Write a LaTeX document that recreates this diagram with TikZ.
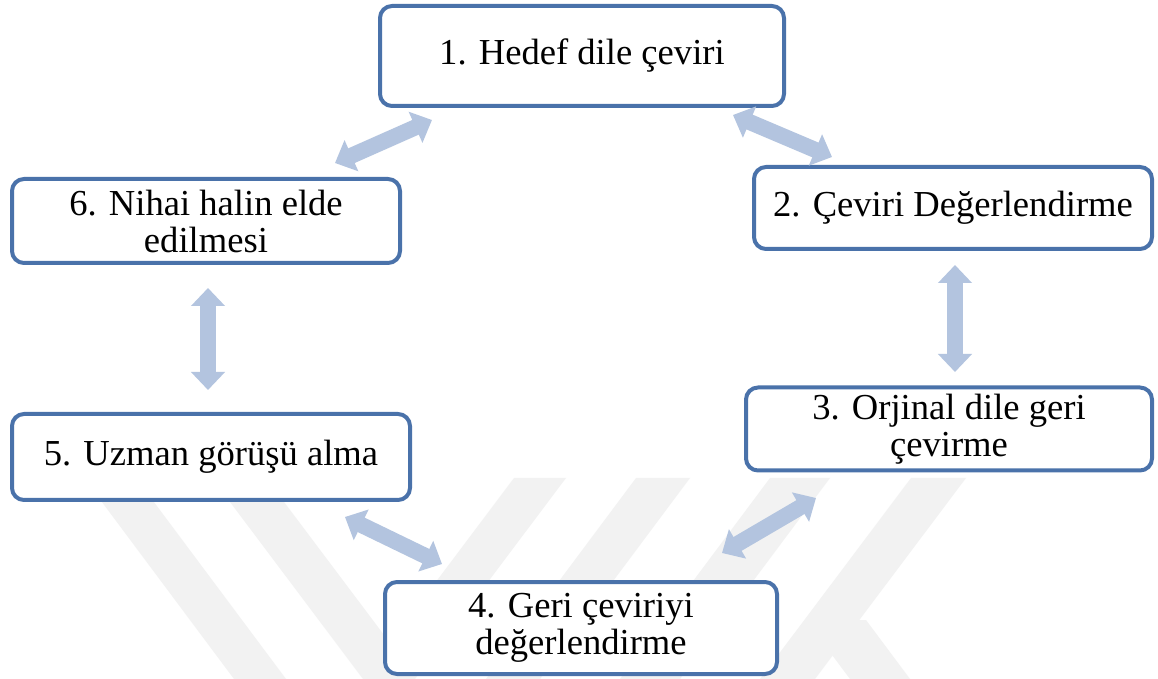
\documentclass[tikz,border=0pt]{standalone}
\usepackage{fontspec}
\setmainfont{Liberation Serif}
\usetikzlibrary{arrows.meta}
\definecolor{boxline}{HTML}{4A72AA}
\definecolor{linkfill}{HTML}{B3C4DF}
\definecolor{wmgray}{gray}{0.95}

\begin{document}
\begin{tikzpicture}[x=0.5pt,y=-0.5pt,
  box/.style={draw=boxline, line width=2pt, rounded corners=6pt, fill=white, align=center, inner sep=0pt, font=\fontsize{18.3}{18.5}\selectfont},
  link/.style={draw=linkfill, line width=8pt, {Triangle[width=16.5pt,length=9pt]}-{Triangle[width=16.5pt,length=9pt]}}]
\useasboundingbox (0,0) rectangle (1158,679);
\fill[white] (0,0) rectangle (1158,679);
% watermark
\fill[wmgray] (84,478) -- (136,478) -- (286,679) -- (234,679) -- cycle;
\fill[wmgray] (212,478) -- (266,478) -- (390,643) -- (514,478) -- (566,478) -- (415,679) -- (363,679) -- cycle;
\fill[wmgray] (636,478) -- (690,478) -- (540,679) -- (486,679) -- cycle;
\fill[wmgray] (770,478) -- (830,478) -- (680,679) -- (620,679) -- cycle;
\fill[wmgray] (911,478) -- (966,478) -- (815,679) -- (760,679) -- cycle;
\fill[wmgray] (806,620) -- (866,620) -- (910,679) -- (850,679) -- cycle;

\node[box, minimum width=202pt, minimum height=50pt] (ceviri) at (582,56) {1. Hedef dile çeviri};
\node[box, minimum width=199pt, minimum height=41pt] (degerlendirme) at (953,208) {2. Çeviri Değerlendirme};
\node[box, minimum width=203pt, minimum height=41.5pt] (geri) at (949,429) {3. Orjinal dile geri\\çevirme};
\node[box, minimum width=196pt, minimum height=46pt] (kontrol) at (581,628) {4. Geri çeviriyi\\değerlendirme};
\node[box, minimum width=199pt, minimum height=43pt] (uzman) at (211,457) {5. Uzman görüşü alma};
\node[box, minimum width=194pt, minimum height=42pt] (nihai) at (206,221) {6. Nihai halin elde\\edilmesi};

\coordinate (a61) at (335,163); \coordinate (a16) at (432,120);
\coordinate (a12) at (733,115); \coordinate (a21) at (832,157);
\coordinate (a23) at (955,265); \coordinate (a32) at (955,372);
\coordinate (a34) at (816,498); \coordinate (a43) at (722,553);
\coordinate (a45) at (442,564); \coordinate (a54) at (345,517);
\coordinate (a56) at (208,390); \coordinate (a65) at (208,288);

\draw[link] (a61) -- (a16);
\draw[link] (a12) -- (a21);
\draw[link] (a23) -- (a32);
\draw[link] (a34) -- (a43);
\draw[link] (a45) -- (a54);
\draw[link] (a56) -- (a65);
\end{tikzpicture}
\end{document}
